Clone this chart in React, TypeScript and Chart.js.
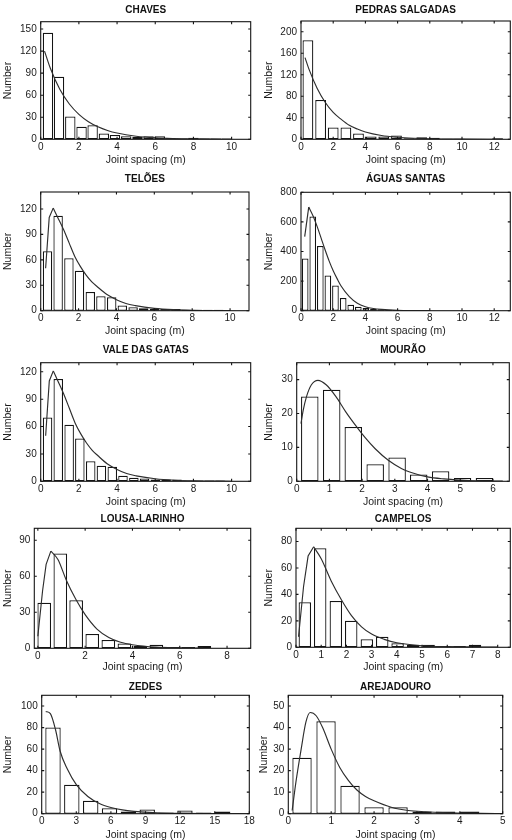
import { useEffect, useRef } from "react";
import { Chart, registerables } from "chart.js";

Chart.register(...registerables);

const FONT = '"Liberation Sans", Arial, Helvetica, sans-serif';
Chart.defaults.font.family = FONT;
Chart.defaults.color = "#1a1a1a";

// ---- Joint spacing histograms (bin centres in m, counts) and fitted curves ----

const chavesBins = [0.38, 0.96, 1.55, 2.14, 2.72, 3.31, 3.89, 4.48, 5.07, 5.65, 6.24, 6.82, 7.41, 8.0, 8.58, 9.17, 9.76];
const chavesCounts = [145, 85, 31, 17, 19, 8, 6, 4, 3, 4, 4, 1, 1, 2, 1, 1, 1];
const chavesCurveX = [0.2, 0.5, 1, 1.5, 2, 2.5, 3, 3.5, 4, 5, 6, 7, 8, 9, 10];
const chavesCurveY = [120, 97, 68, 48, 34, 24, 17, 12, 8.5, 4.2, 2, 1, 0.5, 0.2, 0.1];

const pedrasBins = [0.43, 1.22, 2.0, 2.79, 3.57, 4.36, 5.14, 5.93, 6.71, 7.5, 8.28, 9.07, 9.85, 10.64, 11.42, 12.21];
const pedrasCounts = [184, 73, 22, 22, 11, 5, 5, 7, 2, 4, 3, 1, 1, 0, 0, 2];
const pedrasCurveX = [0.25, 0.5, 1, 1.5, 2, 2.5, 3, 3.5, 4, 5, 6, 7, 8, 10, 12.5];
const pedrasCurveY = [152, 130, 95, 69, 50, 37, 26, 19, 13.5, 7, 3.8, 2, 1, 0.3, 0.1];

const teloesBins = [0.36, 0.92, 1.49, 2.05, 2.62, 3.18, 3.75, 4.31, 4.88, 5.44, 6.01, 6.57, 7.14, 7.7, 8.27, 8.83, 9.4];
const teloesCounts = [70, 112, 62, 47, 22, 17, 16, 6, 4, 3, 2, 2, 2, 1, 1, 1, 1];
const teloesCurveX = [0.26, 0.45, 0.66, 0.9, 1.2, 1.5, 1.8, 2.1, 2.4, 2.7, 3.0, 3.5, 4.0, 4.5, 5.0, 6.0, 7.0, 8.0, 10.0];
const teloesCurveY = [50, 110, 121, 110, 96, 80, 64, 52, 42, 34, 28, 19, 13, 8.5, 6, 2.8, 1.2, 0.5, 0.1];

const aguasBins = [0.26, 0.73, 1.2, 1.67, 2.14, 2.62, 3.09, 3.56, 4.03, 4.5, 4.97, 5.44, 5.91, 6.38, 6.85, 7.33];
const aguasCounts = [352, 636, 437, 237, 171, 86, 41, 27, 18, 11, 9, 6, 4, 3, 2, 1];
const aguasCurveX = [0.23, 0.48, 0.75, 1.0, 1.25, 1.5, 1.75, 2.0, 2.25, 2.5, 3.0, 3.5, 4.0, 4.5, 5.0, 6.0, 7.0, 8.0];
const aguasCurveY = [500, 700, 640, 570, 490, 410, 335, 270, 215, 165, 95, 50, 27, 15, 9, 3, 1, 0.3];

const valeBins = [0.36, 0.92, 1.49, 2.05, 2.62, 3.18, 3.75, 4.31, 4.88, 5.44, 6.01, 6.57, 7.14, 7.7, 8.27, 8.83, 9.4];
const valeCounts = [70, 112, 62, 47, 22, 17, 16, 6, 4, 3, 2, 2, 2, 1, 1, 1, 1];
const valeCurveX = [0.26, 0.45, 0.66, 0.9, 1.2, 1.5, 1.8, 2.1, 2.4, 2.7, 3.0, 3.5, 4.0, 4.5, 5.0, 6.0, 7.0, 8.0, 10.0];
const valeCurveY = [50, 110, 121, 110, 96, 80, 64, 52, 42, 34, 28, 19, 13, 8.5, 6, 2.8, 1.2, 0.5, 0.1];

const mouraoBins = [0.4, 1.07, 1.73, 2.4, 3.07, 3.73, 4.4, 5.07, 5.74];
const mouraoCounts = [25, 27, 16, 5, 7, 2, 3, 1, 1];
const mouraoCurveX = [0.13, 0.2, 0.3, 0.45, 0.65, 0.9, 1.2, 1.5, 1.8, 2.1, 2.4, 2.8, 3.2, 3.6, 4.0, 4.5, 5.0, 5.5, 6.3];
const mouraoCurveY = [17, 21, 25, 28.5, 29.8, 28.5, 25, 20.5, 16.5, 12.8, 9.6, 6.2, 3.8, 2.3, 1.3, 0.7, 0.35, 0.15, 0.05];

const lousaBins = [0.27, 0.95, 1.62, 2.3, 2.98, 3.66, 4.33, 5.01, 5.69, 6.36, 7.04];
const lousaCounts = [38, 79, 40, 12, 7, 4, 2, 3, 1, 1, 2];
const lousaCurveX = [0, 0.2, 0.35, 0.55, 0.85, 1.2, 1.6, 2.0, 2.5, 3.0, 3.5, 4.0, 5.0, 6.0, 7.0];
const lousaCurveY = [10, 48, 70, 81, 74, 57, 41, 28, 16, 9, 5, 3, 1, 0.4, 0.1];

const campelosBins = [0.35, 0.96, 1.58, 2.19, 2.81, 3.42, 4.03, 4.65, 5.26, 5.88, 6.49, 7.1];
const campelosCounts = [34, 75, 35, 20, 6, 8, 3, 2, 2, 1, 1, 2];
const campelosCurveX = [0.1, 0.3, 0.48, 0.7, 1.0, 1.4, 1.8, 2.2, 2.6, 3.0, 3.5, 4.0, 5.0, 6.0, 8.0];
const campelosCurveY = [8, 46, 69, 76, 67, 50, 36, 24, 15.5, 10, 6, 3.4, 1.2, 0.5, 0.1];

const zedesBins = [0.98, 2.61, 4.25, 5.88, 7.52, 9.15, 10.78, 12.42, 14.05, 15.69];
const zedesCounts = [80, 27, 12, 5, 2, 4, 1, 3, 1, 2];
const zedesCurveX = [0.35, 0.75, 1.2, 1.6, 2.2, 3.0, 4.0, 5.0, 6.0, 7.0, 8.0, 10.0, 12.0, 15.0, 18.0];
const zedesCurveY = [95, 93, 78, 58, 42, 27, 16, 9.5, 5.8, 3.5, 2.2, 0.8, 0.3, 0.1, 0];

const arejadouroBins = [0.32, 0.88, 1.44, 2.0, 2.56, 3.12, 3.67, 4.23];
const arejadouroCounts = [26, 43, 13, 3, 3, 1, 1, 1];
const arejadouroCurveX = [0.09, 0.18, 0.3, 0.41, 0.51, 0.65, 0.8, 1.0, 1.2, 1.4, 1.6, 1.8, 2.0, 2.4, 2.8, 3.2, 3.6, 4.0, 4.5, 5.0];
const arejadouroCurveY = [1.5, 15, 30, 42.5, 47, 45.5, 40, 30, 21.5, 15.5, 11, 8, 6, 3, 1.5, 0.9, 0.5, 0.3, 0.15, 0.1];

// ---- Panel definitions: data + axis ranges ----

type PanelSpec = {
  title: string;
  bins: number[];
  counts: number[];
  curveX: number[];
  curveY: number[];
  xMin: number;
  xMax: number;
  xStep: number;
  yMax: number;
  yStep: number;
  barPct: number;
  sharpPeak: boolean;
};

const panels: PanelSpec[] = [
  { title: "CHAVES", bins: chavesBins, counts: chavesCounts, curveX: chavesCurveX, curveY: chavesCurveY, xMin: 0, xMax: 11, xStep: 2, yMax: 160, yStep: 30, barPct: 0.94, sharpPeak: false },
  { title: "PEDRAS SALGADAS", bins: pedrasBins, counts: pedrasCounts, curveX: pedrasCurveX, curveY: pedrasCurveY, xMin: 0, xMax: 13, xStep: 2, yMax: 220, yStep: 40, barPct: 0.86, sharpPeak: false },
  { title: "TELÕES", bins: teloesBins, counts: teloesCounts, curveX: teloesCurveX, curveY: teloesCurveY, xMin: 0, xMax: 11, xStep: 2, yMax: 140, yStep: 30, barPct: 0.89, sharpPeak: true },
  { title: "ÁGUAS SANTAS", bins: aguasBins, counts: aguasCounts, curveX: aguasCurveX, curveY: aguasCurveY, xMin: 0, xMax: 13, xStep: 2, yMax: 800, yStep: 200, barPct: 0.88, sharpPeak: true },
  { title: "VALE DAS GATAS", bins: valeBins, counts: valeCounts, curveX: valeCurveX, curveY: valeCurveY, xMin: 0, xMax: 11, xStep: 2, yMax: 130, yStep: 30, barPct: 0.89, sharpPeak: true },
  { title: "MOURÃO", bins: mouraoBins, counts: mouraoCounts, curveX: mouraoCurveX, curveY: mouraoCurveY, xMin: 0, xMax: 6.5, xStep: 1, yMax: 35, yStep: 10, barPct: 0.81, sharpPeak: false },
  { title: "LOUSA-LARINHO", bins: lousaBins, counts: lousaCounts, curveX: lousaCurveX, curveY: lousaCurveY, xMin: -0.15, xMax: 9, xStep: 2, yMax: 100, yStep: 30, barPct: 0.86, sharpPeak: true },
  { title: "CAMPELOS", bins: campelosBins, counts: campelosCounts, curveX: campelosCurveX, curveY: campelosCurveY, xMin: 0, xMax: 8.5, xStep: 1, yMax: 90, yStep: 20, barPct: 0.81, sharpPeak: true },
  { title: "ZEDES", bins: zedesBins, counts: zedesCounts, curveX: zedesCurveX, curveY: zedesCurveY, xMin: 0, xMax: 18, xStep: 3, yMax: 110, yStep: 20, barPct: 0.82, sharpPeak: false },
  { title: "AREJADOURO", bins: arejadouroBins, counts: arejadouroCounts, curveX: arejadouroCurveX, curveY: arejadouroCurveY, xMin: 0, xMax: 5, xStep: 1, yMax: 55, yStep: 10, barPct: 0.82, sharpPeak: false },
];

// ---- Page layout of each plot box (px) ----

type Frame = { l: number; t: number; r: number; b: number; titleY: number; xTitleY: number; yTitleX: number };

const frames: Frame[] = [
  { l: 40.7, t: 21.7, r: 250.7, b: 139.3, titleY: 10, xTitleY: 160, yTitleX: 8.3 },
  { l: 301, t: 21, r: 510.3, b: 139.3, titleY: 10, xTitleY: 160, yTitleX: 269.3 },
  { l: 40.7, t: 192, r: 249, b: 310.7, titleY: 179.7, xTitleY: 331.3, yTitleX: 8.3 },
  { l: 301, t: 192.3, r: 510.3, b: 310.7, titleY: 179.7, xTitleY: 331.3, yTitleX: 269 },
  { l: 40.7, t: 362.7, r: 250.7, b: 481.3, titleY: 350, xTitleY: 502, yTitleX: 8.3 },
  { l: 296.7, t: 362.7, r: 509.3, b: 481.3, titleY: 350, xTitleY: 502, yTitleX: 269 },
  { l: 34.3, t: 528.3, r: 250.7, b: 648.3, titleY: 519.7, xTitleY: 667.3, yTitleX: 8.3 },
  { l: 296, t: 528.3, r: 510.3, b: 647.3, titleY: 519.7, xTitleY: 667.3, yTitleX: 269.3 },
  { l: 41.7, t: 695.3, r: 249.3, b: 813.7, titleY: 687, xTitleY: 835.3, yTitleX: 8.3 },
  { l: 288.3, t: 695.3, r: 502.7, b: 813.7, titleY: 687, xTitleY: 835.3, yTitleX: 264.3 },
];

const INK = "#141414";
const CURVE = "#2e2e2e";
const TICK_FONT = { size: 10, family: FONT };
const AXIS_FONT = { size: 10.5, family: FONT };

function HistPanel({ spec, frame }: { spec: PanelSpec; frame: Frame }) {
  const ref = useRef<HTMLCanvasElement | null>(null);

  const left = Math.round(frame.yTitleX - 7.3);
  const top = Math.floor(frame.t - 22);
  const right = Math.ceil(frame.r + 8);
  const bottom = Math.ceil(frame.xTitleY + 7.3);
  const w = right - left;
  const h = bottom - top;

  useEffect(() => {
    const canvas = ref.current;
    if (!canvas) return;

    const yAxisW = frame.l - left;
    const xAxisH = bottom - frame.b;
    const padTop = frame.t - top;
    const padRight = right - frame.r;
    const xTitlePad = bottom - frame.xTitleY - 6.3;
    const yTitlePad = frame.yTitleX - left - 6.3;
    const titleGap = frame.t - frame.titleY;

    const pts = spec.curveX.map((x, i) => ({ x, y: spec.curveY[i] }));
    const curveSets: any[] = [];
    const lineBase = {
      type: "line" as const,
      borderColor: CURVE,
      borderWidth: 1.15,
      pointRadius: 0,
      fill: false,
      order: 0,
    };
    if (spec.sharpPeak) {
      // straight rise up to the mode, smooth tail after it
      let k = 0;
      spec.curveY.forEach((v, i) => {
        if (v > spec.curveY[k]) k = i;
      });
      curveSets.push({ ...lineBase, data: pts.slice(0, k + 1), tension: 0 });
      curveSets.push({ ...lineBase, data: pts.slice(k), cubicInterpolationMode: "monotone" });
    } else {
      curveSets.push({ ...lineBase, data: pts, cubicInterpolationMode: "monotone" });
    }

    // boxed axes with inward ticks on all four sides, plus the panel title
    const framePlugin = {
      id: "panelFrame",
      afterDatasetsDraw(chart: any) {
        const { ctx, chartArea: a, scales } = chart;
        const xs = scales.x;
        const ys = scales.y;
        ctx.save();
        ctx.strokeStyle = INK;
        ctx.lineWidth = 1.1;
        ctx.strokeRect(a.left, a.top, a.right - a.left, a.bottom - a.top);
        const len = 2.5;
        ctx.beginPath();
        xs.ticks.forEach((t: any) => {
          const px = xs.getPixelForValue(t.value);
          ctx.moveTo(px, a.bottom);
          ctx.lineTo(px, a.bottom - len);
          ctx.moveTo(px, a.top);
          ctx.lineTo(px, a.top + len);
        });
        ys.ticks.forEach((t: any) => {
          const py = ys.getPixelForValue(t.value);
          ctx.moveTo(a.left, py);
          ctx.lineTo(a.left + len, py);
          ctx.moveTo(a.right, py);
          ctx.lineTo(a.right - len, py);
        });
        ctx.stroke();
        ctx.font = `bold 10px ${FONT}`;
        ctx.fillStyle = "#111";
        ctx.textAlign = "center";
        ctx.textBaseline = "middle";
        ctx.fillText(spec.title, (a.left + a.right) / 2, a.top - titleGap);
        ctx.restore();
      },
    };

    const chart = new Chart(canvas, {
      type: "bar",
      data: {
        datasets: [
          ...curveSets,
          {
            type: "bar",
            data: spec.bins.map((x, i) => ({ x, y: spec.counts[i] })),
            backgroundColor: "#ffffff",
            borderColor: INK,
            borderWidth: 1.25,
            borderSkipped: false,
            barPercentage: spec.barPct,
            categoryPercentage: 1,
            order: 1,
          },
        ],
      } as any,
      options: {
        responsive: false,
        animation: false,
        events: [],
        layout: { padding: { top: padTop, right: padRight, left: 0, bottom: 0 } },
        plugins: {
          legend: { display: false },
          tooltip: { enabled: false },
          title: { display: false },
        },
        scales: {
          x: {
            type: "linear",
            min: spec.xMin,
            max: spec.xMax,
            offset: false,
            grid: { display: false, drawTicks: false, offset: false },
            border: { display: false },
            ticks: {
              stepSize: spec.xStep,
              includeBounds: false,
              autoSkip: false,
              maxRotation: 0,
              padding: 1.5,
              font: TICK_FONT,
              color: "#1a1a1a",
            },
            title: {
              display: true,
              text: "Joint spacing (m)",
              font: AXIS_FONT,
              color: "#1a1a1a",
              padding: { top: 0, bottom: xTitlePad },
            },
            afterFit: (s: any) => {
              s.height = xAxisH;
            },
          },
          y: {
            type: "linear",
            min: 0,
            max: spec.yMax,
            grid: { display: false, drawTicks: false },
            border: { display: false },
            ticks: {
              stepSize: spec.yStep,
              includeBounds: false,
              padding: 4,
              font: TICK_FONT,
              color: "#1a1a1a",
            },
            title: {
              display: true,
              text: "Number",
              font: AXIS_FONT,
              color: "#1a1a1a",
              padding: { top: yTitlePad, bottom: 0 },
            },
            afterFit: (s: any) => {
              s.width = yAxisW;
            },
          },
        },
      } as any,
      plugins: [framePlugin],
    });

    return () => chart.destroy();
  }, []);

  return (
    <canvas
      ref={ref}
      width={w}
      height={h}
      style={{ position: "absolute", left, top, width: w, height: h, display: "block" }}
    />
  );
}

export default function App() {
  return (
    <div
      style={{
        position: "absolute",
        left: 0,
        top: 0,
        width: 512,
        height: 840,
        overflow: "hidden",
        background: "#ffffff",
      }}
    >
      {panels.map((p, i) => (
        <HistPanel key={p.title} spec={p} frame={frames[i]} />
      ))}
    </div>
  );
}
